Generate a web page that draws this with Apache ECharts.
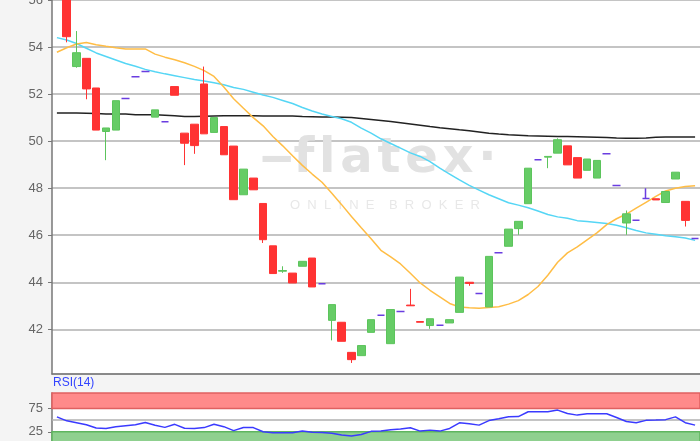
<!DOCTYPE html>
<html><head><meta charset="utf-8">
<script src="https://cdn.jsdelivr.net/npm/echarts@6/dist/echarts.min.js"></script>
<style>html,body{margin:0;padding:0;background:#f4f4f4;}#c{width:700px;height:441px;}</style>
</head><body><div id="c"></div>
<script>
const categories = ['T0','T1','T2','T3','T4','T5','T6','T7','T8','T9','T10','T11','T12','T13','T14','T15','T16','T17','T18','T19','T20','T21','T22','T23','T24','T25','T26','T27','T28','T29','T30','T31','T32','T33','T34','T35','T36','T37','T38','T39','T40','T41','T42','T43','T44','T45','T46','T47','T48','T49','T50','T51','T52','T53','T54','T55','T56','T57','T58','T59','T60','T61','T62','T63','T64','T65'];
const opens = [null,57.0,53.17,53.52,52.26,50.41,50.47,51.81,52.74,52.96,51.02,50.82,52.32,50.34,50.72,52.43,50.37,50.62,49.79,47.72,48.43,47.35,45.55,44.47,44.39,44.68,45.03,43.94,42.38,42.30,41.02,40.88,41.87,42.60,41.39,42.76,43.03,42.33,42.16,42.17,42.27,42.72,44.00,43.52,42.95,45.26,45.53,46.28,47.34,49.21,49.32,49.49,49.80,49.30,48.76,48.43,49.46,48.11,46.52,46.64,47.56,47.55,47.39,48.39,47.44,45.86];
const closes = [null,54.44,53.76,52.22,50.47,50.56,51.72,51.81,52.74,52.96,51.33,50.82,51.95,49.91,49.81,50.31,51.00,49.42,47.51,48.81,47.93,45.81,44.37,44.50,43.97,44.89,43.80,43.94,43.05,41.49,40.71,41.31,42.41,42.60,42.84,42.76,43.00,42.30,42.45,42.17,42.41,44.22,43.95,43.52,45.10,45.26,46.26,46.59,48.85,49.21,49.35,50.06,48.99,48.43,49.24,49.18,49.46,48.11,46.91,46.64,47.56,47.50,47.86,48.68,46.63,45.86];
const lows = [null,54.2,53.12,51.78,50.47,49.19,50.47,51.81,52.74,52.96,51.02,50.82,51.95,48.98,49.46,50.31,50.37,49.42,47.51,47.72,47.93,45.67,44.37,44.40,43.97,44.68,43.80,43.94,41.53,41.49,40.57,40.88,41.87,42.60,41.39,42.76,43.00,42.30,42.02,42.17,42.27,42.72,43.85,43.52,42.95,45.26,45.53,46.02,47.34,49.21,48.85,49.49,48.99,48.43,48.76,48.43,49.46,48.11,46.02,46.64,47.56,47.50,47.39,48.39,46.37,45.86];
const highs = [null,57.2,54.68,53.52,52.26,50.56,51.72,51.81,52.74,52.96,51.33,50.82,52.32,50.34,50.72,53.17,51.00,50.62,49.79,48.81,48.43,47.35,45.55,44.68,44.39,44.89,45.03,43.94,43.05,42.30,41.02,41.31,42.41,42.60,42.84,42.76,43.72,42.33,42.45,42.17,42.41,44.22,44.00,43.52,45.10,45.26,46.26,46.59,48.85,49.21,49.35,50.12,49.80,49.30,49.24,49.18,49.46,48.11,47.05,46.64,48.00,47.55,47.86,48.68,47.44,45.86];
const ma200 = [51.2,51.2,51.2,51.19,51.17,51.15,51.15,51.15,51.12,51.12,51.12,51.1,51.08,51.05,51.05,51.06,51.07,51.08,51.08,51.08,51.08,51.07,51.07,51.07,51.07,51.05,51.04,51.03,51.03,51.02,51.0,50.96,50.92,50.88,50.83,50.78,50.73,50.68,50.62,50.57,50.53,50.48,50.44,50.39,50.34,50.3,50.27,50.25,50.23,50.22,50.21,50.2,50.2,50.19,50.18,50.17,50.15,50.13,50.12,50.12,50.13,50.16,50.18,50.18,50.18,50.18];
const ma50 = [54.4,54.3,54.15,53.95,53.75,53.6,53.45,53.3,53.18,53.05,52.95,52.86,52.78,52.7,52.62,52.56,52.48,52.4,52.28,52.2,52.08,51.96,51.86,51.73,51.6,51.43,51.28,51.15,51.05,50.95,50.8,50.55,50.34,50.1,49.9,49.7,49.5,49.35,49.13,48.85,48.6,48.35,48.12,47.92,47.72,47.55,47.38,47.28,47.17,47.03,46.88,46.78,46.72,46.62,46.58,46.54,46.5,46.42,46.32,46.2,46.1,46.04,45.98,45.93,45.88,45.78];
const ma20 = [53.78,53.97,54.13,54.19,54.1,54.03,53.97,53.92,53.92,53.92,53.7,53.57,53.46,53.33,53.18,53.0,52.75,52.3,51.8,51.4,51.0,50.65,50.2,49.8,49.38,48.97,48.6,48.25,47.78,47.3,46.8,46.32,45.85,45.36,45.08,44.78,44.38,43.97,43.66,43.38,43.1,42.95,42.92,42.9,42.93,42.96,43.07,43.22,43.48,43.82,44.3,44.85,45.25,45.5,45.8,46.1,46.45,46.7,46.9,47.15,47.4,47.65,47.88,48.0,48.07,48.1];
const rsi = [57,48.5,44.5,40,33,32.3,36,38,40,45,39,34.5,41,32.5,32.3,34,41,36,27.5,34.4,34,25,23,23,23,26.5,24,23.6,22,18,15.8,19.4,26,26.5,29.5,31,33.6,26.5,28.6,26.5,32.2,44.3,42,39.3,49,53,57.1,57.5,67.9,67.9,67.9,71.4,64,60.7,63.5,63.5,63.5,55.7,47,44.3,49.5,50,51,57,44.5,39.3];
const priceTicks = ['42','44','46','48','50','52','54','56'];
const rsiTicks = [25, 75];

const candleMain = [], candleDoji = [];
for (let i = 0; i < categories.length; i++) {
  if (opens[i] == null) { candleMain.push('-'); candleDoji.push('-'); continue; }
  const d = [opens[i], closes[i], lows[i], highs[i]];
  if (opens[i] === closes[i]) { candleDoji.push(d); candleMain.push('-'); }
  else { candleMain.push(d); candleDoji.push('-'); }
}

const chart = echarts.init(document.getElementById('c'), null, {renderer: 'canvas'});
const axisGray = '#777';
const option = {
  backgroundColor: '#f4f4f4',
  animation: false,
  grid: [
    {left: 52, right: 0, top: 0, height: 374, show: true, backgroundColor: '#ffffff', borderWidth: 0, outerBoundsMode: 'none', containLabel: false},
    {left: 52, right: 0, top: 393, height: 50.5, show: true, backgroundColor: '#ffffff', borderWidth: 0, outerBoundsMode: 'none', containLabel: false}
  ],
  xAxis: [
    {type: 'category', gridIndex: 0, data: categories, boundaryGap: true,
     axisLine: {show: true, lineStyle: {color: axisGray, width: 1.5}}, axisTick: {show: false}, axisLabel: {show: false}, splitLine: {show: false}},
    {type: 'category', gridIndex: 1, data: categories, boundaryGap: true,
     axisLine: {show: false}, axisTick: {show: false}, axisLabel: {show: false}, splitLine: {show: false}}
  ],
  yAxis: [
    {type: 'value', gridIndex: 0, min: 40.1, max: 56, minInterval: 2, maxInterval: 2, scale: true,
     axisLine: {show: true, lineStyle: {color: axisGray, width: 1.5}},
     axisTick: {show: true, length: 4, lineStyle: {color: axisGray}},
     axisLabel: {color: '#666', fontSize: 13, fontFamily: 'Liberation Sans', margin: 9, showMinLabel: false,
       formatter: v => priceTicks.indexOf(String(v)) >= 0 ? String(v) : ''},
     splitLine: {show: true, lineStyle: {color: '#b0b0b0', width: 1.5}}},
    {type: 'value', gridIndex: 1, min: 0, max: 108,
     axisLine: {show: true, lineStyle: {color: axisGray, width: 1.5}},
     axisTick: {show: true, length: 4, customValues: rsiTicks, lineStyle: {color: axisGray}},
     axisLabel: {color: '#666', fontSize: 13, fontFamily: 'Liberation Sans', margin: 9, customValues: rsiTicks},
     splitLine: {show: false}}
  ],
  graphic: [
    {type: 'text', left: 260, top: 136, z: 1, silent: true,
     style: {text: '\u2012f\u200al\u200aa\u200at\u200ae\u200ax\u200a\u00b7', fontSize: 48, fontWeight: 'bold', fontFamily: 'DejaVu Sans', fill: '#e2e2e2'}},
    {type: 'text', left: 290, top: 199, z: 1, silent: true,
     style: {text: 'O  N  L  I  N  E    B  R  O  K  E  R', fontSize: 13, fontFamily: 'Liberation Sans', fill: '#e8e8e8'}},
    {type: 'text', left: 53, top: 377, z: 5, silent: true,
     style: {text: 'RSI(14)', fontSize: 12, fontFamily: 'Liberation Sans', fill: '#3344ff'}}
  ],
  series: [
    {type: 'line', xAxisIndex: 0, yAxisIndex: 0, data: ma200, symbol: 'none', lineStyle: {color: '#222', width: 1.5}, z: 3},
    {type: 'line', xAxisIndex: 0, yAxisIndex: 0, data: ma50, symbol: 'none', lineStyle: {color: '#55d6f5', width: 1.5}, z: 3},
    {type: 'line', xAxisIndex: 0, yAxisIndex: 0, data: ma20, symbol: 'none', lineStyle: {color: '#ffbd45', width: 1.5}, z: 3},
    {type: 'candlestick', xAxisIndex: 0, yAxisIndex: 0, data: candleMain, barWidth: 8, z: 4,
     itemStyle: {color: '#66cc66', color0: '#ff3333', borderColor: '#5cc45c', borderColor0: '#ff3333', borderWidth: 1}},
    {type: 'candlestick', xAxisIndex: 0, yAxisIndex: 0, data: candleDoji, barWidth: 8, z: 4,
     itemStyle: {color: '#6a3de0', color0: '#6a3de0', borderColor: '#6a3de0', borderColor0: '#6a3de0', borderWidth: 1.5}},
    {type: 'line', xAxisIndex: 1, yAxisIndex: 1, data: rsi, symbol: 'none', lineStyle: {color: '#3a3aff', width: 1.5}, z: 5,
     markArea: {silent: true, data: [
       [{yAxis: 75, itemStyle: {color: '#ff8a8a', borderColor: '#e06060', borderWidth: 1.5}}, {yAxis: 108}],
       [{yAxis: 0, itemStyle: {color: '#8fd08f', borderColor: '#5fb55f', borderWidth: 1.5}}, {yAxis: 25}]
     ]},
     markLine: {silent: true, symbol: 'none', label: {show: false}, lineStyle: {color: '#b0b0b0', width: 1.5, type: 'solid'}, data: [{yAxis: 50}]}}
  ]
};
chart.setOption(option);
</script></body></html>
